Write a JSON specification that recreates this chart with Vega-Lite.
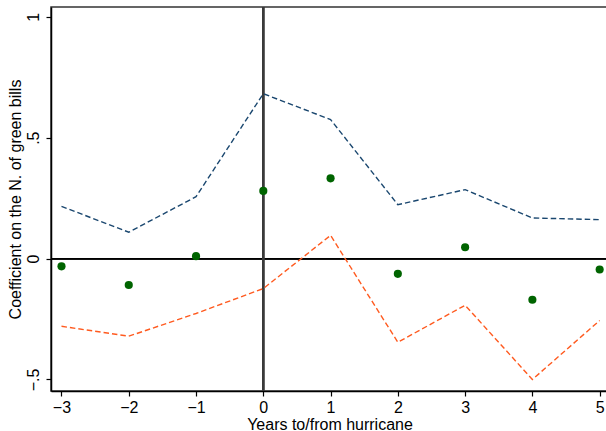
{
  "$schema": "https://vega.github.io/schema/vega-lite/v6.json",
  "autosize": {"type": "none"},
  "padding": {"left": 51, "top": 7, "right": 0, "bottom": 40},
  "width": 557,
  "height": 384,
  "background": "white",
  "config": {
    "font": "Liberation Sans",
    "view": {"stroke": "#333333", "strokeWidth": 1.5},
    "axis": {"grid": false, "domainColor": "#000000", "tickColor": "#000000", "labelColor": "#000000", "titleColor": "#000000", "labelFontSize": 16, "titleFontSize": 16, "titleFontWeight": "normal", "labelFont": "Liberation Sans", "titleFont": "Liberation Sans", "tickSize": 5, "domainWidth": 1.5, "tickWidth": 1.2}
  },
  "data": {
    "values": [
      {"year": -3, "coef": -0.032, "upper": 0.216, "lower": -0.280},
      {"year": -2, "coef": -0.109, "upper": 0.109, "lower": -0.321},
      {"year": -1, "coef": 0.010, "upper": 0.256, "lower": -0.227},
      {"year": 0, "coef": 0.280, "upper": 0.682, "lower": -0.124},
      {"year": 1, "coef": 0.332, "upper": 0.575, "lower": 0.096},
      {"year": 2, "coef": -0.063, "upper": 0.223, "lower": -0.346},
      {"year": 3, "coef": 0.047, "upper": 0.285, "lower": -0.193},
      {"year": 4, "coef": -0.170, "upper": 0.168, "lower": -0.500},
      {"year": 5, "coef": -0.045, "upper": 0.161, "lower": -0.256}
    ]
  },
  "encoding": {
    "x": {
      "field": "year", "type": "quantitative",
      "scale": {"domain": [-3.156, 5.124], "nice": false, "zero": false},
      "axis": {"values": [-3, -2, -1, 0, 1, 2, 3, 4, 5], "title": "Years to/from hurricane", "labelPadding": 3, "titlePadding": 1}
    }
  },
  "layer": [
    {
      "mark": {"type": "rule", "color": "#000000", "strokeWidth": 1.1},
      "encoding": {"x": null, "y": {"datum": 0, "type": "quantitative"}}
    },
    {
      "mark": {"type": "rule", "color": "#3a3a3a", "strokeWidth": 1.7},
      "encoding": {"x": {"datum": 0, "type": "quantitative"}}
    },
    {
      "mark": {"type": "line", "color": "#1a476f", "strokeWidth": 1.4, "strokeDash": [5.5, 3]},
      "encoding": {
        "y": {
          "field": "upper", "type": "quantitative",
          "scale": {"domain": [-0.5476, 1.0405], "nice": false, "zero": false},
          "axis": {"values": [-0.5, 0, 0.5, 1], "labelAngle": -90, "labelExpr": "datum.value == 0.5 ? '.5' : datum.value == -0.5 ? '\u2212.5' : datum.value == 1 ? '1' : '0'", "title": "Coefficient on the N. of green bills", "labelPadding": 5, "titlePadding": 2}
        }
      }
    },
    {
      "mark": {"type": "line", "color": "#ff5a1f", "strokeWidth": 1.4, "strokeDash": [5.5, 3]},
      "encoding": {"y": {"field": "lower", "type": "quantitative"}}
    },
    {
      "mark": {"type": "point", "filled": true, "color": "#006400", "size": 66, "opacity": 1},
      "encoding": {"y": {"field": "coef", "type": "quantitative"}}
    }
  ]
}
